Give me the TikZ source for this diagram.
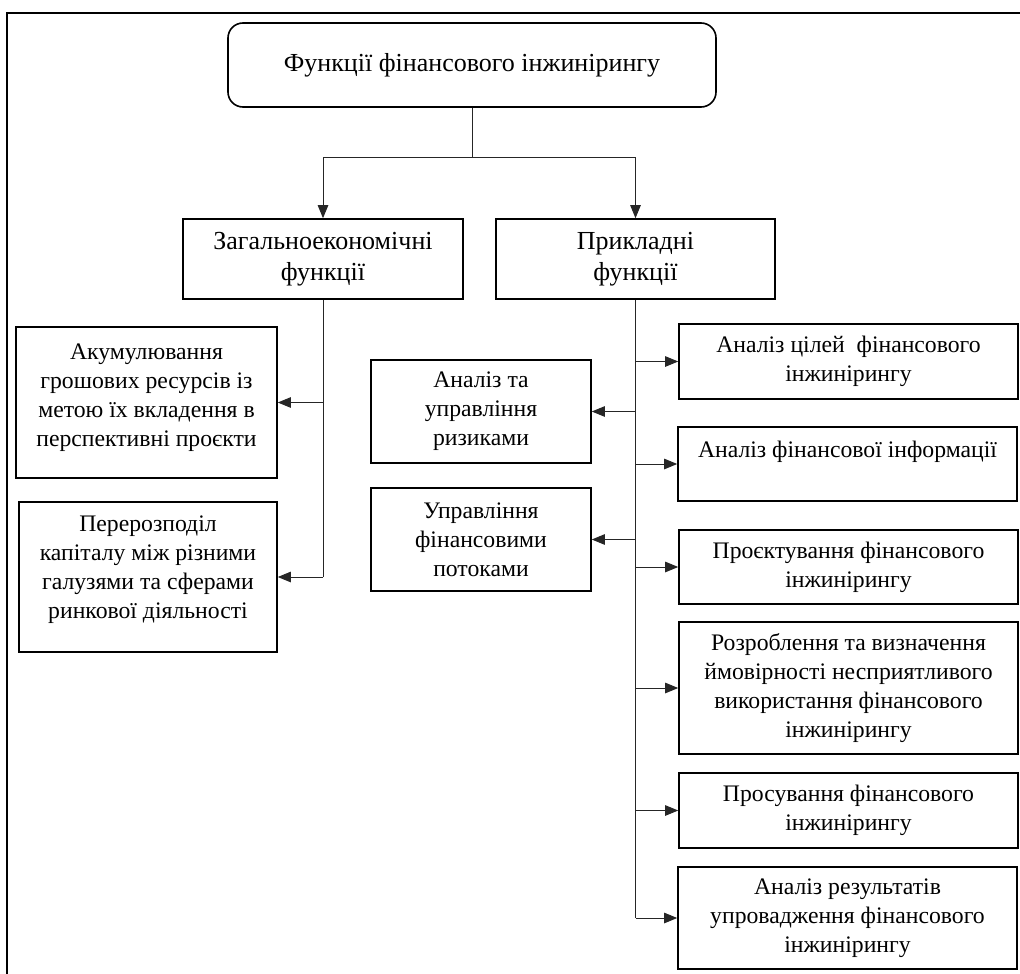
\documentclass[tikz,border=0pt]{standalone}
\usepackage{fontspec}
\setmainfont{Liberation Serif}
\usetikzlibrary{arrows.meta}
\tikzset{
  box/.style={draw, line width=1.6pt, inner sep=0pt, align=center, font=\fontsize{23.7}{29}\selectfont},
  bigbox/.style={box, font=\fontsize{26}{31}\selectfont},
  conn/.style={line width=0.9pt, draw=black!85},
  arr/.style={conn, -{Triangle[length=13pt,width=10.5pt]}},
}
\begin{document}
\begin{tikzpicture}[x=1pt,y=-1pt]
\useasboundingbox (0,0) rectangle (1020,974);
% frame
\draw[line width=2pt] (7,976) -- (7,13) -- (1022,13);

\node[bigbox, rounded corners=15pt, minimum width=488pt, minimum height=84pt] (top) at (472,65) {Функції фінансового інжинірингу};

\node[bigbox, minimum width=280pt, minimum height=80pt] (gen) at (323,259) {Загальноекономічні\\функції};
\node[bigbox, minimum width=279pt, minimum height=80pt] (app) at (635.5,259) {Прикладні\\функції};

\node[box, minimum width=261pt, minimum height=151pt] (ak) at (146.5,402.5) {Акумулювання\\грошових ресурсів із\\метою їх вкладення в\\перспективні проєкти\\[-14pt]\mbox{}};
\node[box, minimum width=258pt, minimum height=150pt] (per) at (148,577) {Перерозподіл\\капіталу між різними\\галузями та сферами\\ринкової діяльності\\[-9pt]\mbox{}};

\node[box, minimum width=220pt, minimum height=103pt] (riz) at (481,411.5) {Аналіз та\\управління\\ризиками};
\node[box, minimum width=220pt, minimum height=103pt] (pot) at (481,539.5) {Управління\\фінансовими\\потоками};

\node[box, minimum width=339pt, minimum height=75pt] (r1) at (848.5,361.5) {Аналіз цілей\ \ фінансового\\інжинірингу};
\node[box, minimum width=339pt, minimum height=74pt] (r2) at (847.5,464) {Аналіз фінансової інформації\\\mbox{}};
\node[box, minimum width=339pt, minimum height=74pt] (r3) at (848.5,567) {Проєктування фінансового\\інжинірингу};
\node[box, minimum width=339pt, minimum height=132pt] (r4) at (848.5,688) {Розроблення та визначення\\ймовірності несприятливого\\використання фінансового\\інжинірингу};
\node[box, minimum width=339pt, minimum height=75pt] (r5) at (848.5,810.5) {Просування фінансового\\інжинірингу};
\node[box, minimum width=339pt, minimum height=102pt] (r6) at (847.5,918) {Аналіз результатів\\упровадження фінансового\\інжинірингу};

% top split
\coordinate (split) at (472,157);
\draw[conn] (top.south) -- (split);
\draw[conn] (gen.north |- split) -- (app.north |- split);
\draw[arr] (gen.north |- split) -- (gen.north);
\draw[arr] (app.north |- split) -- (app.north);

% left trunk
\draw[conn] (gen.south) -- (gen.south |- per.east);
\draw[arr] (gen.south |- ak.east) -- (ak.east);
\draw[arr] (gen.south |- per.east) -- (per.east);

% right trunk
\draw[conn] (app.south) -- (app.south |- r6.west);
\draw[arr] (app.south |- riz.east) -- (riz.east);
\draw[arr] (app.south |- pot.east) -- (pot.east);
\draw[arr] (app.south |- r1.west) -- (r1.west);
\draw[arr] (app.south |- r2.west) -- (r2.west);
\draw[arr] (app.south |- r3.west) -- (r3.west);
\draw[arr] (app.south |- r4.west) -- (r4.west);
\draw[arr] (app.south |- r5.west) -- (r5.west);
\draw[arr] (app.south |- r6.west) -- (r6.west);
\end{tikzpicture}
\end{document}
